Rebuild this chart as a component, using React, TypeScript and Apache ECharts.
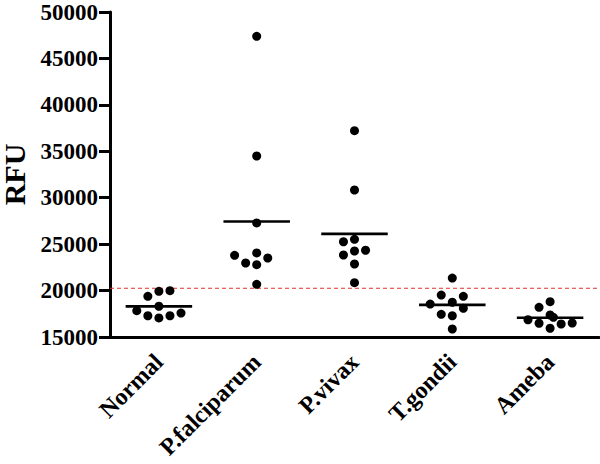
import React, { useEffect, useRef } from "react";
import * as echarts from "echarts";

const categories = ["Normal", "P.falciparum", "P.vivax", "T.gondii", "Ameba"];

const normalValues = [19990, 19920, 19380, 17830, 18310, 17290, 17050, 17290, 17580];
const falciparumValues = [47380, 34490, 27280, 23800, 24050, 23510, 22970, 22790, 20670];
const vivaxValues = [37220, 30830, 25520, 25260, 23830, 24260, 24340, 22860, 20850];
const gondiiValues = [21350, 19520, 19380, 18550, 18740, 18090, 17440, 17290, 15860];
const amebaValues = [18800, 18200, 17370, 17120, 16860, 16480, 15940, 16400, 16510];

// horizontal swarm slot of each point (layout, not data)
const normalSlots = [1, 0, -1, -2, 0, -1, 0, 1, 2];
const falciparumSlots = [0, 0, 0, -2, 0, 1, -1, 0, 0];
const vivaxSlots = [0, 0, 0, -1, -1, 0, 1, 0, 0];
const gondiiSlots = [0, -1, 1, -2, 0, 1, -1, 0, 0];
const amebaSlots = [0, -1, 0, 0.3, -2, -1, 0, 1, 2];

const cutoff = 20250;

const yTicks = { min: 15000, max: 50000, interval: 5000 };

const groups = [normalValues, falciparumValues, vivaxValues, gondiiValues, amebaValues];
const slots = [normalSlots, falciparumSlots, vivaxSlots, gondiiSlots, amebaSlots];

export default function App() {
  const ref = useRef<HTMLDivElement>(null);
  useEffect(() => {
    if (!ref.current) return;
    const chart = echarts.init(ref.current, undefined, { renderer: "svg" });
    const slotW = 0.113;
    const points: number[][] = [];
    groups.forEach((vals, gi) => {
      vals.forEach((v, k) => points.push([gi + slots[gi][k] * slotW, v]));
    });
    const means = groups.map((vals, gi) => [gi, vals.reduce((a, b) => a + b, 0) / vals.length]);
    const font = "'Liberation Serif', 'Times New Roman', serif";
    chart.setOption({
      animation: false,
      grid: {
        left: 110,
        right: 1,
        top: 12,
        bottom: 127,
        containLabel: false,
        outerBoundsMode: "none",
      },
      xAxis: [
        {
          type: "category",
          data: categories,
          boundaryGap: true,
          axisLine: { onZero: false, lineStyle: { color: "#000", width: 3 } },
          axisTick: { alignWithLabel: true, length: 9, lineStyle: { color: "#000", width: 3 } },
          axisLabel: {
            rotate: 45,
            margin: 21,
            color: "#000",
            fontFamily: font,
            fontWeight: "bold",
            fontSize: 24,
          },
          splitLine: { show: false },
        },
        {
          type: "value",
          min: -0.5,
          max: 4.5,
          show: false,
        },
      ],
      yAxis: {
        type: "value",
        min: yTicks.min,
        max: yTicks.max,
        interval: yTicks.interval,
        name: "RFU",
        nameLocation: "middle",
        nameRotate: 90,
        nameGap: 79,
        nameTextStyle: { color: "#000", fontFamily: font, fontWeight: "bold", fontSize: 30 },
        axisLine: { show: true, onZero: false, lineStyle: { color: "#000", width: 3 } },
        axisTick: { show: true, length: 11, lineStyle: { color: "#000", width: 3 } },
        axisLabel: {
          margin: 12,
          color: "#000",
          fontFamily: font,
          fontWeight: "bold",
          fontSize: 23,
          formatter: (v: number) => String(v),
        },
        splitLine: { show: false },
      },
      series: [
        {
          type: "scatter",
          xAxisIndex: 1,
          data: points,
          symbol: "circle",
          symbolSize: 9,
          itemStyle: { color: "#000", opacity: 1 },
          z: 3,
        },
        {
          type: "line",
          xAxisIndex: 1,
          data: [[-0.5, cutoff], [4.5, cutoff]],
          showSymbol: false,
          symbol: "none",
          lineStyle: { color: "#e0302a", type: [4, 3], width: 1, opacity: 1 },
          z: 2,
        },
        {
          type: "custom",
          xAxisIndex: 1,
          data: means,
          renderItem: (params: any, api: any) => {
            const i = api.value(0);
            const m = api.value(1);
            const p1 = api.coord([i - 0.34, m]);
            const p2 = api.coord([i + 0.34, m]);
            return {
              type: "line",
              shape: { x1: p1[0], y1: p1[1], x2: p2[0], y2: p2[1] },
              style: { stroke: "#000", lineWidth: 2.7 },
            };
          },
          z: 4,
        },
      ],
    });
    return () => chart.dispose();
  }, []);
  return (
    <div
      ref={ref}
      style={{ position: "absolute", left: 0, top: 0, width: 600, height: 464 }}
    />
  );
}
